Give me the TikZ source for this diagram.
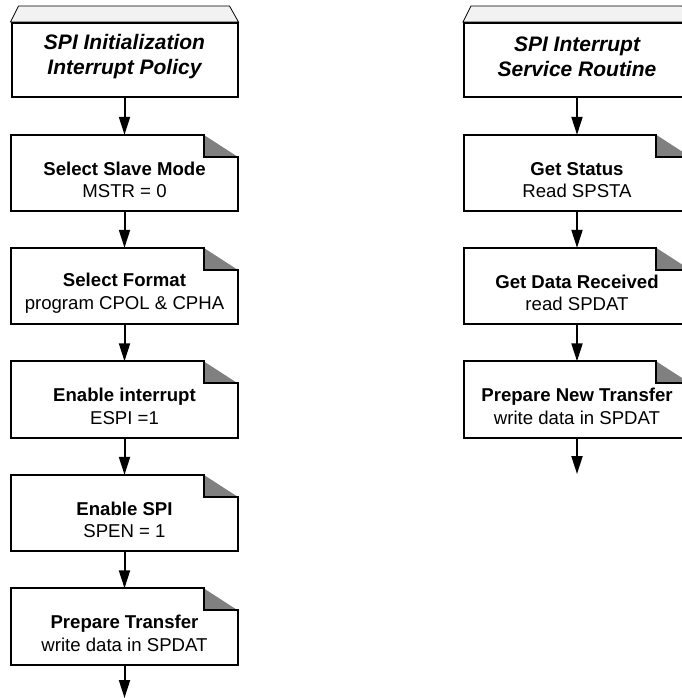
\documentclass[tikz,border=0pt]{standalone}
\usepackage{fontspec}
\setmainfont{Liberation Sans}
\usepackage{tikz}
\usetikzlibrary{calc,positioning,arrows.meta,backgrounds}
\definecolor{FoldGray}{RGB}{128,128,128}
\definecolor{HeadGray}{RGB}{242,242,242}
\tikzset{
    headbox/.style={draw,line width=2pt,minimum width=226pt,minimum height=74pt,inner sep=0pt},
    headtext/.style={align=center,inner sep=0pt,font=\fontsize{21}{25}\selectfont\bfseries\itshape},
    headtop/.style={draw,line width=0.8pt,fill=HeadGray},
    stepframe/.style={minimum width=226pt,minimum height=76pt,inner sep=0pt},
    steptext/.style={align=center,inner sep=0pt,font=\fontsize{18.6}{22.5}\selectfont},
    foldline/.style={line width=2pt,line join=miter},
    foldcorner/.style={fill=FoldGray},
    flowarrow/.style={line width=2pt,-{Triangle[length=18pt,width=11pt]}}
}

\begin{document}
\begin{tikzpicture}[x=1pt,y=-1pt]
\useasboundingbox (0,0) rectangle (681,698);

				% headers
				\node[headbox] (h1) at (124.5,60) {};
				\node[headbox] (h2) at (577,60) {};
				\node[headtext,yshift=3pt] (h1t) at (h1) {SPI Initialization\\Interrupt Policy};
				\node[headtext,yshift=3pt] (h2t) at (h2) {SPI Interrupt\\Service Routine};
				\begin{scope}[on background layer]
				\foreach \h in {h1,h2}
					\draw[headtop] ($(\h.north west)+(8,-16)$) -- ($(\h.north east)+(-9,-16)$) -- (\h.north east) -- (\h.north west) -- cycle;
				\end{scope}

				% init steps
				\node[stepframe] (s1) at (124.5,173) {};
				\node[stepframe] (s2) at (124.5,286) {};
				\node[stepframe] (s3) at (124.5,399.5) {};
				\node[stepframe] (s4) at (124.5,513) {};
				\node[stepframe] (s5) at (124.5,626.5) {};

				% interrupt steps
				\node[stepframe] (r1) at (577,173) {};
				\node[stepframe] (r2) at (577,286) {};
				\node[stepframe] (r3) at (577,399.5) {};

				% folded outlines
				\foreach \n in {s1,s2,s3,s4,s5,r1,r2,r3} {
					\fill[foldcorner] ($(\n.north east)+(-34,0)$) -- ($(\n.north east)+(0,22)$) -- ($(\n.north east)+(-34,22)$) -- cycle;
					\draw[foldline] ($(\n.north east)+(-34,0)$) -- (\n.north west) -- (\n.south west) -- (\n.south east) -- ($(\n.north east)+(0,22)$) -- ($(\n.north east)+(-34,22)$) -- cycle;
				}

				% labels
				\node[steptext,yshift=-7pt] (s1t) at (s1) {\textbf{Select Slave Mode}\\MSTR = 0};
				\node[steptext,yshift=-7pt] (s2t) at (s2) {\textbf{Select Format}\\program CPOL \& CPHA};
				\node[steptext,yshift=-7pt] (s3t) at (s3) {\textbf{Enable interrupt}\\ESPI =1};
				\node[steptext,yshift=-7pt] (s4t) at (s4) {\textbf{Enable SPI}\\SPEN = 1};
				\node[steptext,yshift=-7pt] (s5t) at (s5) {\textbf{Prepare Transfer}\\write data in SPDAT};
				\node[steptext,yshift=-7pt] (r1t) at (r1) {\textbf{Get Status}\\Read SPSTA};
				\node[steptext,yshift=-7pt] (r2t) at (r2) {\textbf{Get Data Received}\\read SPDAT};
				\node[steptext,yshift=-7pt] (r3t) at (r3) {\textbf{Prepare New Transfer}\\write data in SPDAT};

				% arrows
				\coordinate (s6) at (124.5,698);
				\coordinate (r4) at (577,474);
				\draw[flowarrow] (h1.south) -- (s1.north);
				\draw[flowarrow] (s1.south) -- (s2.north);
				\draw[flowarrow] (s2.south) -- (s3.north);
				\draw[flowarrow] (s3.south) -- (s4.north);
				\draw[flowarrow] (s4.south) -- (s5.north);
				\draw[flowarrow] (s5.south) -- (s6);
				\draw[flowarrow] (h2.south) -- (r1.north);
				\draw[flowarrow] (r1.south) -- (r2.north);
				\draw[flowarrow] (r2.south) -- (r3.north);
				\draw[flowarrow] (r3.south) -- (r4);
\end{tikzpicture}
\end{document}
